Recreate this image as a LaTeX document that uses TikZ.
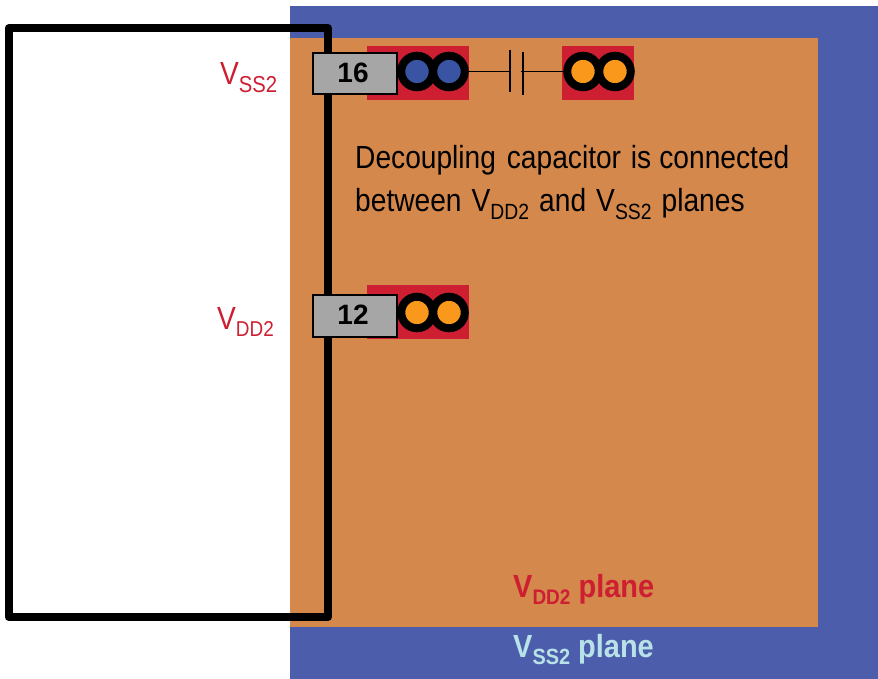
\documentclass[tikz,border=0pt]{standalone}
\usepackage{fontspec}
\setmainfont{Liberation Sans}
\newfontfamily\narrowfont[FakeStretch=0.88]{Liberation Sans}
\newfontfamily\boldnarrow[FakeStretch=0.905]{Liberation Sans}
\definecolor{vssblue}{RGB}{76,94,171}
\definecolor{vddorange}{RGB}{212,136,75}
\definecolor{padred}{RGB}{205,30,50}
\definecolor{holeblue}{RGB}{58,84,164}
\definecolor{holeorange}{RGB}{250,152,28}
\definecolor{pingray}{RGB}{166,166,166}
\definecolor{paleblue}{RGB}{184,226,232}
\newcommand{\sbs}[2][22]{\raisebox{-0.22em}{\fontsize{#1}{#1}\selectfont #2}}
\tikzset{
 x=1pt,y=-1pt,
 plane/.style={fill=#1,draw=none},
 pad/.style={fill=padred,draw=none},
 via/.style={circle,draw=black,line width=8pt,fill=#1,minimum size=31.5pt,inner sep=0pt,outer sep=0pt},
 pin/.style={draw=black,line width=2.4pt,fill=pingray,minimum width=84pt,minimum height=41.5pt,inner sep=0pt,font=\fontsize{28}{28}\selectfont\bfseries},
 lab/.style={anchor=base west,inner sep=0pt,font=\narrowfont\fontsize{#1}{#1}\selectfont},
 boldlab/.style={anchor=base west,inner sep=0pt,font=\boldnarrow\bfseries\fontsize{32}{32}\selectfont},
 plate/.style={line width=2.2pt},
 wire/.style={line width=1.8pt},
}
\begin{document}
\begin{tikzpicture}
\useasboundingbox (0,0) rectangle (878,679);
\path[plane=vssblue] (290,6) rectangle (878,679);
\path[plane=vddorange] (290,38) rectangle (818,627);
\path[pad] (367,46) rectangle (469,100);
\path[pad] (562,46) rectangle (634,100);
\path[pad] (367,285) rectangle (469,339);
\draw[line width=8pt,line join=round] (8.5,28.3) rectangle (328,617);
\node[via=holeblue] (v1) at (417,71.5) {};
\node[via=holeblue] (v2) at (449,71.5) {};
\node[via=holeorange] (v3) at (583,71.5) {};
\node[via=holeorange] (v4) at (615,71.5) {};
\node[via=holeorange] (v5) at (417,312.5) {};
\node[via=holeorange] (v6) at (449,312.5) {};
\node[pin] (p16) at (355,73.5) {\hspace*{-4pt}\raisebox{2.5pt}{16}};
\node[pin] (p12) at (355,316) {\hspace*{-4pt}\raisebox{3.5pt}{12}};
\coordinate (c1) at (510,71.5);
\coordinate (c2) at (521,71.5);
\draw[wire] (v2.east) -- (c1);
\draw[wire] (c2) -- (v3.west);
\draw[plate] (510,50) -- (510,92);
\draw[plate] (523,52) -- (523,95);
\node[lab=32,text=padred] (l1) at (220,85) {V\sbs[23]{SS2}};
\node[lab=32,text=padred] (l2) at (217,329) {V\sbs[21.5]{DD2}};
\node[lab=32,text=black] (t1) at (355,169) {Decoupling\hspace{3pt} capacitor\hspace{2pt} is\hspace{0.3pt} connected};
\node[lab=32,text=black] (t2) at (355,212) {between\hspace{2.2pt} V\sbs{DD2}\hspace{2.2pt} and\hspace{2.2pt} V\sbs{SS2}\hspace{2.2pt} planes};
\node[boldlab,text=padred] (l3) at (513,597) {V\sbs[21]{DD2} plane};
\node[boldlab,text=paleblue] (l4) at (513,657) {V\sbs[22]{SS2} plane};
\end{tikzpicture}
\end{document}
